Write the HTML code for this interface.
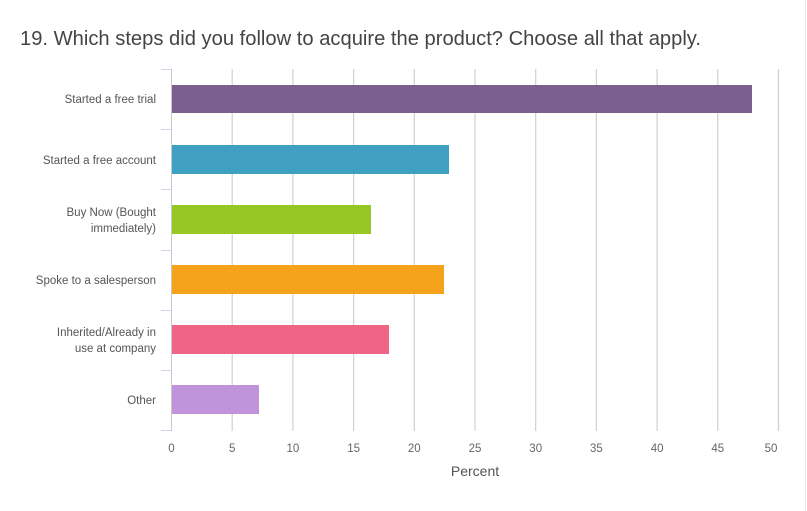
<!DOCTYPE html>
<html><head><meta charset="utf-8"><style>
body{margin:0;background:#fff;}
svg{display:block;font-family:"Liberation Sans",sans-serif;}
</style></head><body>
<svg width="807" height="511" viewBox="0 0 807 511">
<line x1="805.5" y1="0" x2="805.5" y2="511" stroke="#e6e6e6"/>
<text x="20" y="45" font-size="20.5" fill="#444" textLength="681" lengthAdjust="spacingAndGlyphs">19. Which steps did you follow to acquire the product? Choose all that apply.</text>
<g stroke="#d0d0d0" stroke-width="1.2">
<line x1="232.2" y1="69" x2="232.2" y2="431"/>
<line x1="292.9" y1="69" x2="292.9" y2="431"/>
<line x1="353.6" y1="69" x2="353.6" y2="431"/>
<line x1="414.3" y1="69" x2="414.3" y2="431"/>
<line x1="475" y1="69" x2="475" y2="431"/>
<line x1="535.7" y1="69" x2="535.7" y2="431"/>
<line x1="596.4" y1="69" x2="596.4" y2="431"/>
<line x1="657.1" y1="69" x2="657.1" y2="431"/>
<line x1="717.8" y1="69" x2="717.8" y2="431"/>
<line x1="778.5" y1="69" x2="778.5" y2="431"/>
</g>
<line x1="171.5" y1="69" x2="171.5" y2="431" stroke="#c8c8c8"/>
<g stroke="#ccd6eb">
<line x1="161" y1="69.5" x2="171" y2="69.5"/>
<line x1="161" y1="129.5" x2="171" y2="129.5"/>
<line x1="161" y1="189.5" x2="171" y2="189.5"/>
<line x1="161" y1="250.5" x2="171" y2="250.5"/>
<line x1="161" y1="310.5" x2="171" y2="310.5"/>
<line x1="161" y1="370.5" x2="171" y2="370.5"/>
<line x1="161" y1="430.5" x2="171" y2="430.5"/>
</g>
<rect x="172" y="85" width="580" height="28" fill="#7b5f8e"/>
<rect x="172" y="145" width="277" height="29" fill="#3fa0c2"/>
<rect x="172" y="205" width="199" height="29" fill="#95c824"/>
<rect x="172" y="265" width="272" height="29" fill="#f5a31a"/>
<rect x="172" y="325" width="217" height="29" fill="#f06585"/>
<rect x="172" y="385" width="87" height="29" fill="#c193db"/>
<g font-size="11.5" fill="#555" text-anchor="end">
<text x="156" y="103">Started a free trial</text>
<text x="156" y="164">Started a free account</text>
<text x="156" y="216">Buy Now (Bought</text>
<text x="156" y="232">immediately)</text>
<text x="156" y="284">Spoke to a salesperson</text>
<text x="156" y="336">Inherited/Already in</text>
<text x="156" y="352">use at company</text>
<text x="156" y="404">Other</text>
</g>
<g font-size="11.5" fill="#666" text-anchor="middle">
<text x="171.5" y="452">0</text>
<text x="232.2" y="452">5</text>
<text x="292.9" y="452">10</text>
<text x="353.6" y="452">15</text>
<text x="414.3" y="452">20</text>
<text x="475" y="452">25</text>
<text x="535.7" y="452">30</text>
<text x="596.4" y="452">35</text>
<text x="657.1" y="452">40</text>
<text x="717.8" y="452">45</text>
<text x="771" y="452">50</text>
</g>
<text x="475" y="476" font-size="14" fill="#555" text-anchor="middle">Percent</text>
</svg>
</body></html>
